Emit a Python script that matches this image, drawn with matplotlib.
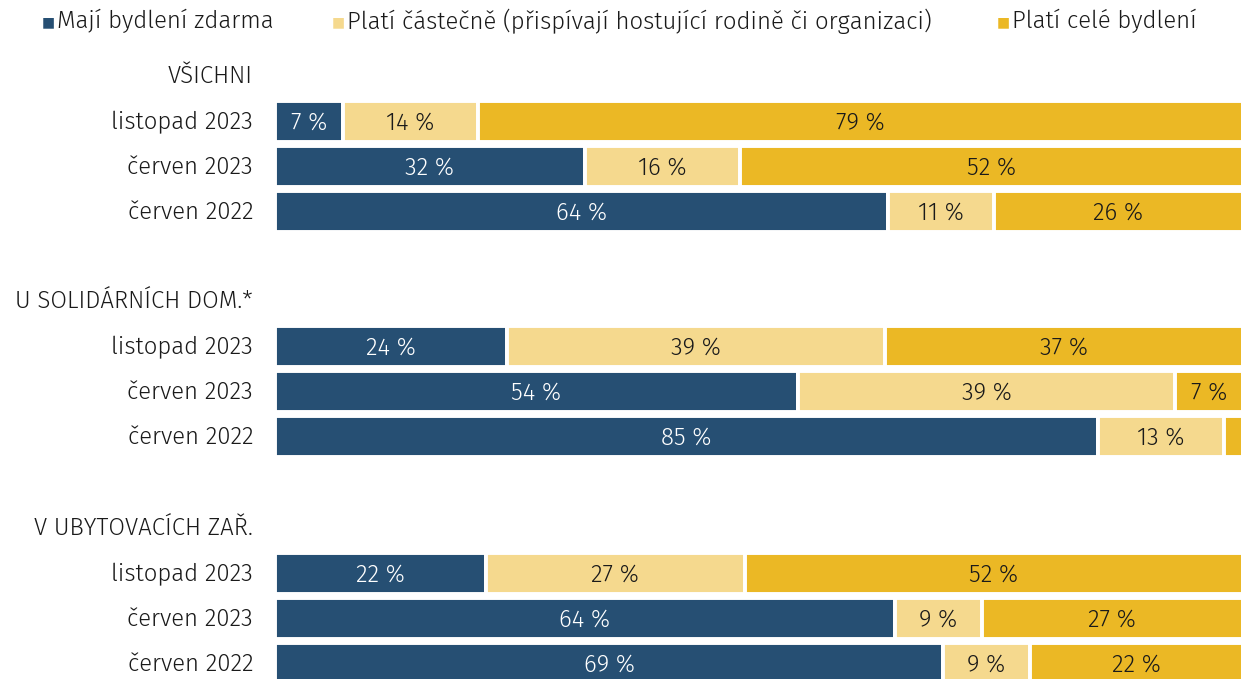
import numpy as np
import matplotlib.pyplot as plt

plt.rcParams['font.family'] = ['Fira Sans', 'Noto Sans', 'DejaVu Sans']

groups = ['VŠICHNI', 'U SOLIDÁRNÍCH DOM.*', 'V UBYTOVACÍCH ZAŘ.']
periods = ['listopad 2023', 'červen 2023', 'červen 2022']
series = ['Mají bydlení zdarma',
          'Platí částečně (přispívají hostující rodině či organizaci)',
          'Platí celé bydlení']
# rows: group x period, columns: series
free = [[7, 32, 64], [24, 54, 85], [22, 64, 69]]
partly = [[14, 16, 11], [39, 39, 13], [27, 9, 9]]
full = [[79, 52, 26], [37, 7, 2], [52, 27, 22]]

colors = ['#264f73', '#f5d98e', '#ebb825']
text_colors = ['white', '#1a1a1a', '#1a1a1a']

W, H = 1241, 679
fig = plt.figure(figsize=(W / 100, H / 100), dpi=100)
ax = fig.add_axes([275 / W, 0, (1243 - 275) / W, 1])
ax.set_xlim(0, 1)
ax.set_ylim(H, 0)
ax.axis('off')

fs = 17.3
fw = 350
group_top = [75, 300, 527]
row_gap = 45
first_row = 46
bar_h = 41

for g, name in enumerate(groups):
    fig.text(253 / W, 1 - (group_top[g] + 1) / H, name, ha='right',
             va='center', fontsize=fs, fontweight=fw, color='#1a1a1a')
    for r, per in enumerate(periods):
        y = group_top[g] + first_row + r * row_gap
        vals = np.array([free[g][r], partly[g][r], full[g][r]], dtype=float)
        share = vals / vals.sum()
        left = 0.0
        for k in range(3):
            ax.barh(y, share[k], left=left, height=bar_h, color=colors[k],
                    edgecolor='white', linewidth=2.8)
            if vals[k] >= 5:
                ax.text(left + share[k] / 2, y + 1.5, f'{int(vals[k])} %',
                        ha='center', va='center', fontsize=fs, fontweight=fw,
                        color=text_colors[k])
            left += share[k]
        fig.text(253 / W, 1 - (y + 1.5) / H, per, ha='right', va='center',
                 fontsize=fs, fontweight=fw, color='#1a1a1a')

# legend
leg_x = [42, 332, 997]
for k, lab in enumerate(series):
    fig.text(leg_x[k] / W, 1 - 22 / H, '■', ha='left', va='center',
             fontsize=10, color=colors[k])
    fig.text((leg_x[k] + 15) / W, 1 - 21 / H, lab, ha='left', va='center',
             fontsize=fs, fontweight=fw, color='#1a1a1a')

fig.savefig('out.png', dpi=100)
